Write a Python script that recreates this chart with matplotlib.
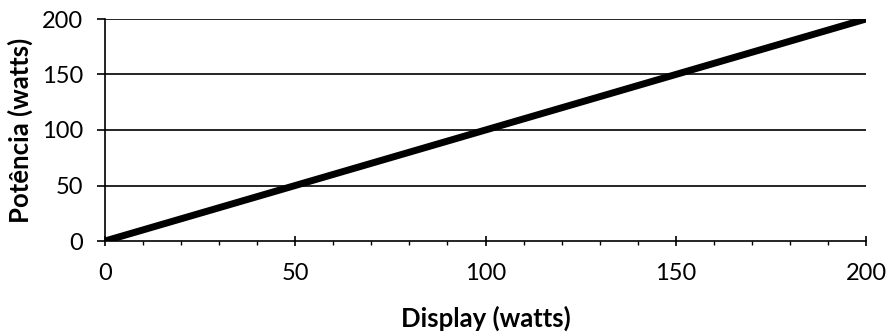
import matplotlib
matplotlib.use('Agg')
import matplotlib.pyplot as plt
from matplotlib.ticker import MultipleLocator

plt.rcParams['font.family'] = ['Lato', 'DejaVu Sans']
plt.rcParams['font.size'] = 17

# dados
display_watts = [0, 50, 100, 150, 200]
potencia_watts = [0, 50, 100, 150, 200]
y_ticks = [0, 50, 100, 150, 200]
x_ticks = [0, 50, 100, 150, 200]

fig = plt.figure(figsize=(8.9, 3.33), dpi=100)
ax = fig.add_axes([105 / 890, 1 - 241 / 333, (866 - 105) / 890, (241 - 19) / 333])

ax.plot(display_watts, potencia_watts, color='black', linewidth=5,
        solid_capstyle='butt', zorder=3)

ax.set_xlim(0, 200)
ax.set_ylim(0, 200)
ax.set_xticks(x_ticks)
ax.set_yticks(y_ticks)
ax.xaxis.set_minor_locator(MultipleLocator(10))

for y in y_ticks[1:]:
    ax.axhline(y, color='black', linewidth=1.2, zorder=1)

ax.spines['right'].set_visible(False)
ax.spines['top'].set_visible(False)
ax.spines['left'].set_linewidth(1.2)
ax.spines['bottom'].set_linewidth(1.2)

ax.tick_params(axis='y', which='major', direction='out', length=6, width=1.2, pad=10)
ax.tick_params(axis='x', which='major', direction='inout', length=7, width=1.2, pad=12)
ax.tick_params(axis='x', which='minor', direction='out', length=3, width=1.0)

ax.set_xlabel('Display (watts)', fontweight='bold', fontsize=18.5, labelpad=16)
ax.set_ylabel('Potência (watts)', fontweight='bold', fontsize=18.5, labelpad=6)

fig.savefig('out.png', dpi=100)
